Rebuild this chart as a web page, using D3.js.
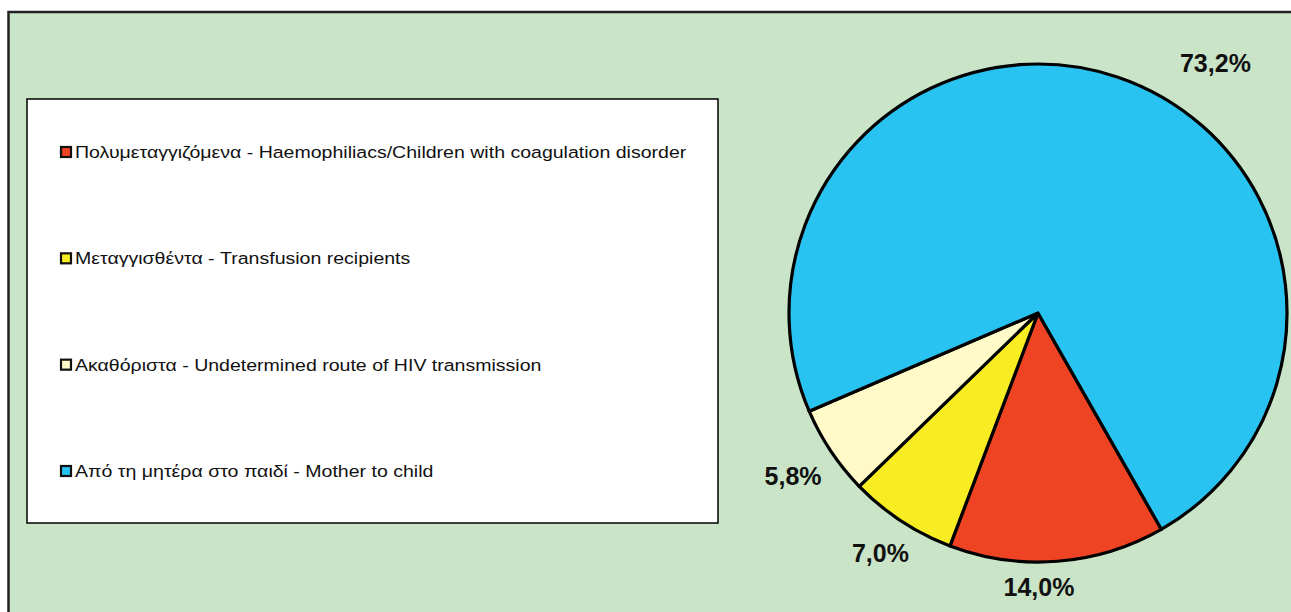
<!DOCTYPE html>
<html>
<head>
<meta charset="utf-8">
<script src="https://cdn.jsdelivr.net/npm/d3@7"></script>
<style>
  html, body { margin: 0; padding: 0; background: #fff; }
  svg { display: block; font-family: "Liberation Sans", Arial, sans-serif; }
</style>
</head>
<body>
<div class="chart"></div>
<script>
// categories in drawing order (clockwise)
const CATEGORIES = [
  'Πολυμεταγγιζόμενα - Haemophiliacs/Children with coagulation disorder',
  'Μεταγγισθέντα - Transfusion recipients',
  'Ακαθόριστα - Undetermined route of HIV transmission',
  'Από τη μητέρα στο παιδί - Mother to child'
];
const VALUES = [14.0, 7.0, 5.8, 73.2];
const LABELS = ['14,0%', '7,0%', '5,8%', '73,2%'];
const COLORS = ['#ef4424', '#f8ec23', '#fffac8', '#29c3f1'];

const width = 1291, height = 612;
const cx = 1038, cy = 313, radius = 249;

const svg = d3.select('.chart').append('svg')
  .attr('width', width)
  .attr('height', height);

// plot area
svg.append('rect')
  .attr('x', 8.5).attr('y', 12)
  .attr('width', 1320).attr('height', 700)
  .attr('fill', '#c9e4c6')
  .attr('stroke', '#222')
  .attr('stroke-width', 2.5);

// legend box
const legend = svg.append('g');
legend.append('rect')
  .attr('x', 27).attr('y', 99)
  .attr('width', 691).attr('height', 424)
  .attr('fill', '#fff')
  .attr('stroke', '#000')
  .attr('stroke-width', 1.5);

const rowY = d3.scaleLinear().domain([0, CATEGORIES.length - 1]).range([158, 477]);

const rows = legend.selectAll('.row')
  .data(CATEGORIES)
  .enter().append('g')
  .attr('class', 'row')
  .attr('transform', (d, i) => `translate(0,${rowY(i)})`);

rows.append('rect')
  .attr('x', 61).attr('y', -11)
  .attr('width', 10).attr('height', 10)
  .attr('fill', (d, i) => COLORS[i])
  .attr('stroke', '#111')
  .attr('stroke-width', 2.2);

// the original legend font is a bit wider than Arial
rows.append('g')
  .attr('transform', 'translate(75,0) scale(1.13,1)')
  .append('text')
  .attr('x', 0).attr('y', 0)
  .attr('font-size', 17.3)
  .attr('fill', '#111')
  .text(d => d);

// pie
const start = 150.3 * Math.PI / 180;
const pie = d3.pie().sort(null)
  .startAngle(start)
  .endAngle(start + 2 * Math.PI);
const arcs = pie(VALUES);
const arc = d3.arc().innerRadius(0).outerRadius(radius);

const g = svg.append('g').attr('transform', `translate(${cx},${cy})`);

g.selectAll('path')
  .data(arcs)
  .enter().append('path')
  .attr('d', arc)
  .attr('fill', (d, i) => COLORS[i])
  .attr('stroke', '#000')
  .attr('stroke-width', 3.2)
  .attr('stroke-linejoin', 'round');

// data labels, placed outside along the slice's middle angle
// (small angle shifts mimic the spreadsheet's best-fit placement)
const angleShift = [4.3, 0, 0, 16.8];
const gapOut = [15, 14, 16, 29];

const lbl = g.selectAll('.lbl')
  .data(arcs)
  .enter().append('text')
  .attr('class', 'lbl')
  .attr('font-size', 25)
  .attr('font-weight', 'bold')
  .attr('fill', '#111')
  .attr('text-anchor', 'middle')
  .attr('dominant-baseline', 'central')
  .text((d, i) => LABELS[i]);

lbl.each(function(d, i) {
  const bb = this.getBBox();
  const a = (d.startAngle + d.endAngle) / 2 + angleShift[i] * Math.PI / 180;
  const sx = Math.sin(a), cy2 = -Math.cos(a);
  const proj = Math.abs(sx) * bb.width / 2 + Math.abs(cy2) * bb.height * 0.36;
  const r = radius + gapOut[i] + proj;
  d3.select(this)
    .attr('x', r * sx)
    .attr('y', r * cy2);
});
</script>
</body>
</html>
